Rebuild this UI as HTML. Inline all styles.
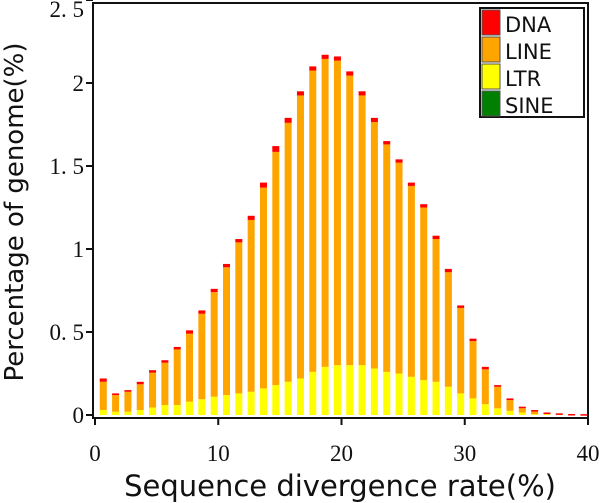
<!DOCTYPE html>
<html><head><meta charset="utf-8"><style>
body{margin:0;background:#fff;width:600px;height:503px;overflow:hidden}
svg{display:block}
.tk{font-family:"Liberation Serif",serif;font-size:23px;fill:#111}
.ttl{font-family:"DejaVu Sans","Liberation Sans",sans-serif;font-size:26px;fill:#111}
.lg{font-family:"DejaVu Sans","Liberation Sans",sans-serif;font-size:21px;fill:#111}
</style></head><body>
<svg id="chart" width="600" height="503">
<g id="bars"></g>
<g id="axes"></g>
</svg>
<script>
const categories=[1,2,3,4,5,6,7,8,9,10,11,12,13,14,15,16,17,18,19,20,21,22,23,24,25,26,27,28,29,30,31,32,33,34,35,36,37,38,39,40];
const totalValues=[0.22,0.13,0.15,0.20,0.27,0.33,0.41,0.51,0.63,0.76,0.91,1.06,1.20,1.40,1.62,1.79,1.95,2.10,2.17,2.16,2.07,1.95,1.79,1.65,1.54,1.40,1.27,1.08,0.88,0.66,0.46,0.29,0.18,0.10,0.05,0.03,0.015,0.01,0.006,0.005];
const ltrValues=[0.03,0.02,0.02,0.03,0.045,0.06,0.06,0.08,0.095,0.11,0.12,0.13,0.14,0.16,0.18,0.20,0.22,0.26,0.29,0.30,0.30,0.30,0.28,0.26,0.25,0.23,0.21,0.20,0.17,0.13,0.10,0.065,0.04,0.025,0.015,0.005,0.004,0.003,0.002,0.002];
const dnaValues=[0.02,0.01,0.01,0.015,0.015,0.015,0.015,0.02,0.02,0.02,0.02,0.02,0.025,0.03,0.035,0.03,0.025,0.025,0.025,0.025,0.025,0.025,0.025,0.02,0.02,0.02,0.02,0.02,0.02,0.015,0.015,0.015,0.01,0.01,0.008,0.006,0.005,0.005,0.004,0.004];
const sineValues=categories.map(()=>0);
const xTicks=[0,10,20,30,40];
const yTicks=[0,0.5,1,1.5,2,2.5];
const yTickLabels=["0","0. 5","1","1. 5","2","2. 5"];
const NS="http://www.w3.org/2000/svg";
const X0=95,X1=588,Y0=415,YS=166;
const xs=v=>X0+v*(X1-X0)/40;
const ys=v=>Y0-v*YS;
function mk(t,a,p){const e=document.createElementNS(NS,t);for(const k in a)e.setAttribute(k,a[k]);(p||document.getElementById('chart')).appendChild(e);return e;}
const bars=document.getElementById('bars');
const bw=7;
categories.forEach((c,i)=>{
  const cx=xs(c-0.33);
  const tot=totalValues[i],ltr=ltrValues[i],dna=dnaValues[i],sine=sineValues[i];
  const line=tot-ltr-dna-sine;
  let base=sine;
  const s=mk('rect',{x:cx-bw/2,y:ys(sine),width:bw,height:Y0-ys(sine),fill:'#008000'},bars);
  
  
  const l=mk('rect',{x:cx-bw/2,y:ys(base+ltr),width:bw,height:ys(base)-ys(base+ltr),fill:'#ffff00'},bars);
  
  
  base+=ltr;
  const n=mk('rect',{x:cx-bw/2,y:ys(base+line),width:bw,height:ys(base)-ys(base+line),fill:'#ffa500'},bars);
  
  
  base+=line;
  const d=mk('rect',{x:cx-bw/2,y:ys(base+dna),width:bw,height:Math.max(1.5,ys(base)-ys(base+dna)),fill:'#ff0000'},bars);
  
  
});
const ax=document.getElementById('axes');
const fr=mk('rect',{x:93,y:3,width:X1-93,height:Y0+3-3,fill:'none',stroke:'#111','stroke-width':2},ax);


xTicks.forEach(t=>{
  mk('line',{x1:xs(t),x2:xs(t),y1:Y0+3,y2:Y0+10,stroke:'#111','stroke-width':2},ax);
  const tx=mk('text',{x:xs(t),y:Y0+46,'text-anchor':'middle',class:'tk'},ax);
  tx.textContent=t;
  
  
});
yTicks.forEach((t,i)=>{
  mk('line',{x1:86,x2:93,y1:ys(t),y2:ys(t),stroke:'#111','stroke-width':2},ax);
  const tx=mk('text',{x:84,y:Math.max(17,ys(t)+8),'text-anchor':'end',class:'tk'},ax);
  tx.textContent=yTickLabels[i];
  
  
});
const xt=mk('text',{x:340,y:496,'text-anchor':'middle',class:'ttl',style:'font-size:29px'},ax);
xt.textContent='Sequence divergence rate(%)';


const yt=mk('text',{x:0,y:0,'text-anchor':'middle',class:'ttl',transform:'translate(23,212) rotate(-90)'},ax);
yt.textContent='Percentage of genome(%)';


const lg=mk('g',{},ax);


mk('rect',{x:480,y:8,width:104,height:109,fill:'#fff',stroke:'#111','stroke-width':2},lg);
const names=['DNA','LINE','LTR','SINE'],cols=['#ff0000','#ffa500','#ffff00','#008000'];
names.forEach((n,i)=>{
  const e=mk('g',{},lg);
  
  
  mk('rect',{x:482,y:10+i*27,width:18,height:25,fill:cols[i],stroke:'#555','stroke-width':1},e);
  const t=mk('text',{x:505,y:32+i*27,class:'lg'},e);
  t.textContent=n;
});
</script>
</body></html>
